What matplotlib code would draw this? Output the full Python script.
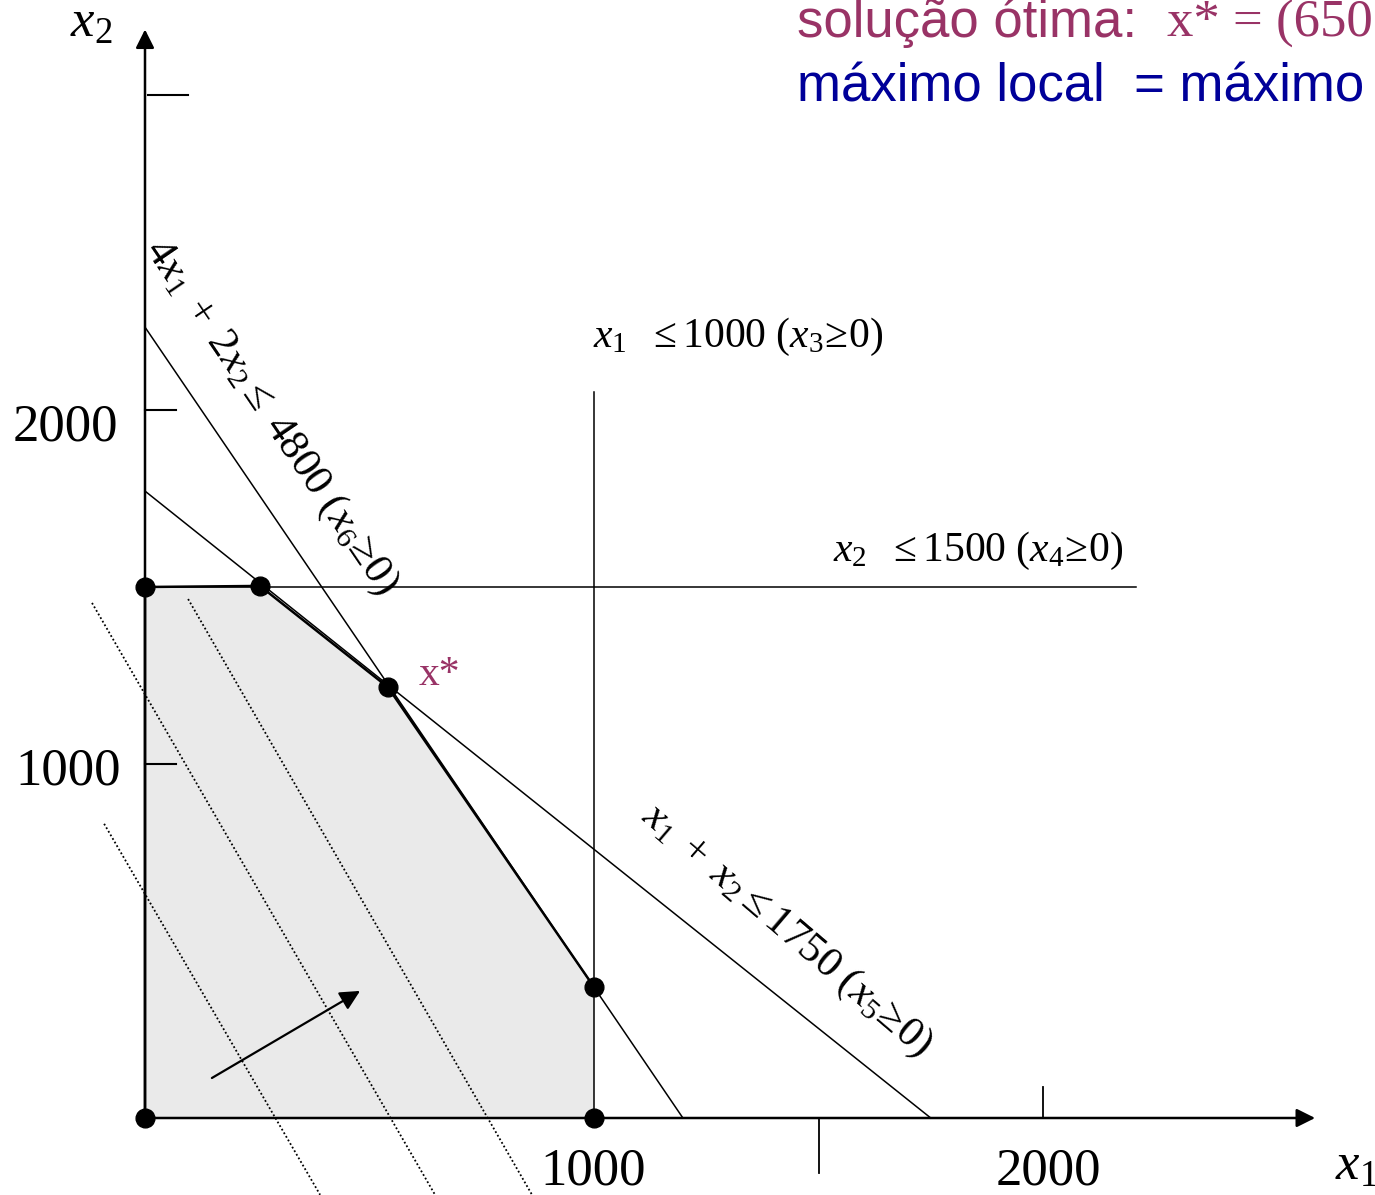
import numpy as np
import matplotlib
matplotlib.use('Agg')
import matplotlib.pyplot as plt

plt.rcParams['mathtext.fontset'] = 'custom'
plt.rcParams['mathtext.rm'] = 'Liberation Serif'
plt.rcParams['mathtext.it'] = 'Liberation Serif:italic'
plt.rcParams['font.family'] = ['Liberation Serif', 'DejaVu Serif']

# regiao viavel (vertices)
region_x1 = [0, 0, 256, 541, 1000, 1000]
region_x2 = [0, 1500, 1503, 1217, 370, 0]

# restricoes
c1_x1 = [0, 1198]      # 4x1 + 2x2 <= 4800
c1_x2 = [2234, 0]
c2_x1 = [0, 1750]      # x1 + x2 <= 1750
c2_x2 = [1771, 0]
c3_x1 = [1000, 1000]   # x1 <= 1000
c3_x2 = [0, 2051]
c4_x1 = [0, 2207]      # x2 <= 1500
c4_x2 = [1500, 1500]

# retas de nivel (pontilhadas)
iso_x1 = [[-118, 646], [-91, 390], [96, 862]]
iso_x2 = [[1455, -217], [831, -217], [1466, -217]]

# direcao de crescimento
grad_tail = (149, 113)
grad_head = (479, 359)

ytick_vals = [1000, 2000]
xtick_up = 2000
xtick_down = 1500
top_tick = 2890

purple = '#993366'
navy = '#000099'

# escala: pixels por unidade
sx, sy = 0.449, 0.354
fig = plt.figure(figsize=(13.75, 11.95), dpi=100)
ax = fig.add_axes([0, 0, 1, 1])
ax.set_xlim(-145 / sx, (1375 - 145) / sx)
ax.set_ylim(-(1195 - 1118) / sy, 1118 / sy)
ax.axis('off')

# preenchimento
ax.fill(region_x1, region_x2, color='#eaeaea', zorder=1, lw=0)

# retas de nivel
for xs, ys in zip(iso_x1, iso_x2):
    ax.plot(xs, ys, color='black', lw=1.3, ls=(0, (1, 1.3)), zorder=2)

# restricoes
for xs, ys in [(c1_x1, c1_x2), (c2_x1, c2_x2), (c3_x1, c3_x2), (c4_x1, c4_x2)]:
    ax.plot(xs, ys, color='black', lw=1.1, zorder=3)

# contorno da regiao
ax.plot(region_x1[:5], region_x2[:5], color='black', lw=1.8, zorder=4)

# eixos
ax.annotate('', xy=(0, 3075), xytext=(0, 0),
            arrowprops=dict(arrowstyle='-|>', lw=1.8, color='black', mutation_scale=28,
                            shrinkA=0, shrinkB=0), zorder=5)
ax.annotate('', xy=(2606, 0), xytext=(0, 0),
            arrowprops=dict(arrowstyle='-|>', lw=1.8, color='black', mutation_scale=28,
                            shrinkA=0, shrinkB=0), zorder=5)

# marcas
for v in ytick_vals:
    ax.plot([0, 69], [v, v], color='black', lw=1.5, zorder=5)
ax.plot([7, 96], [top_tick, top_tick], color='black', lw=1.5, zorder=5)
ax.plot([xtick_down, xtick_down], [0, -155], color='black', lw=1.3, zorder=5)
ax.plot([xtick_up, xtick_up], [0, 88], color='black', lw=1.3, zorder=5)

# seta
ax.annotate('', xy=grad_head, xytext=grad_tail,
            arrowprops=dict(arrowstyle='-|>', lw=1.6, color='black', mutation_scale=30,
                            shrinkA=0, shrinkB=0), zorder=5)

# vertices
ax.plot(region_x1, region_x2, 'o', color='black', ms=13.5, zorder=6)

# rotulos dos eixos
ax.text(-60, 1915, '2000', fontsize=38, ha='right', va='baseline')
ax.text(-53, 941, '1000', fontsize=38, ha='right', va='baseline')
ax.text(998, -189, '1000', fontsize=38, ha='center', va='baseline')
ax.text(2013, -189, '2000', fontsize=38, ha='center', va='baseline')
ax.text(-167, 3054, r'$x_2$', fontsize=38, ha='left', va='baseline')
ax.text(2650, -175, r'$x_1$', fontsize=38, ha='left', va='baseline')

# rotulos das restricoes
ax.text(998, 2178, r'$x_1\ \ \leq 1000\ (x_3\!\geq\!0)$', fontsize=30, ha='left', va='baseline')
ax.text(1532, 1573, r'$x_2\ \ \leq 1500\ (x_4\!\geq\!0)$', fontsize=30, ha='left', va='baseline')
ax.text(280, 1980, r'$4x_1\;+\;2x_2 \leq\ 4800\ (x_6\!\geq\!0)$', fontsize=31,
        rotation=-55.8, rotation_mode='anchor', ha='center', va='center')
ax.text(1428, 530, r'$x_1\;+\;x_2 \leq 1750\ (x_5\!\geq\!0)$', fontsize=31,
        rotation=-40.5, rotation_mode='anchor', ha='center', va='center')

ax.text(610, 1224, 'x*', fontsize=30, color=purple, ha='left', va='baseline')

# titulo
fig.text(797 / 1375, 1 - 37 / 1195, 'solução ótima:', fontsize=38, color=purple,
         family='Liberation Sans', ha='left', va='baseline')
fig.text(1167 / 1375, 1 - 37 / 1195, 'x* = (650', fontsize=38, color=purple,
         family='Liberation Serif', ha='left', va='baseline')
fig.text(797 / 1375, 1 - 101 / 1195, 'máximo local  = máximo', fontsize=38, color=navy,
         family='Liberation Sans', ha='left', va='baseline')

fig.savefig('out.png', dpi=100)
